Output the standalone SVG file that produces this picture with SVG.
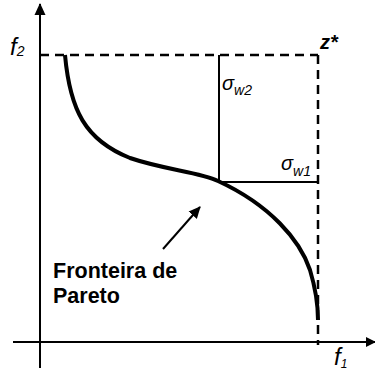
<svg xmlns="http://www.w3.org/2000/svg" width="375" height="373" viewBox="0 0 375 373">
<defs>
<marker id="ah" markerWidth="10" markerHeight="10" refX="9" refY="5" orient="auto" markerUnits="userSpaceOnUse"><path d="M0,0 L10,5 L0,10 Z" fill="#000"/></marker>
<marker id="ah2" markerWidth="12" markerHeight="12" refX="11" refY="6" orient="auto" markerUnits="userSpaceOnUse"><path d="M0,0.5 L12,6 L0,11.5 Z" fill="#000"/></marker>
</defs>
<style>
.ax{stroke:#000;stroke-width:2;fill:none}
.dash{stroke:#000;stroke-width:2.5;stroke-dasharray:9,6;fill:none}
.sol{stroke:#000;stroke-width:2;fill:none}
.curve{stroke:#000;stroke-width:4;fill:none;stroke-linecap:butt}
.t{font-family:"Liberation Sans",Arial,sans-serif;fill:#000}
</style>
<g id="connectors">
<line class="ax" x1="40" y1="368" x2="40" y2="4" marker-end="url(#ah2)"/>
<line class="ax" x1="13" y1="342" x2="375" y2="342" marker-end="url(#ah)"/>
<line class="dash" x1="40" y1="55" x2="318" y2="55"/>
<line class="dash" x1="318" y1="55" x2="318" y2="345"/>
<line class="sol" x1="219" y1="55" x2="219" y2="182"/>
<line class="sol" x1="219" y1="182" x2="318" y2="182"/>
<path class="curve" d="M65,55 C70,110 85,140 130,158 C165,170 200,172 218,181 C270,205 300,240 310,270 C316,290 318,305 318,320"/>
<line class="sol" x1="163" y1="249" x2="200" y2="207" stroke-width="1.5" marker-end="url(#ah2)"/>
</g>
<g id="labels">
<text class="t" x="10" y="55" font-size="24" font-style="italic">f<tspan font-size="14" dy="1">2</tspan></text>
<text class="t" x="320" y="49" font-size="20" font-weight="bold" font-style="italic">z*</text>
<text class="t" x="222" y="90" font-size="20" font-style="italic">σ<tspan font-size="14" dy="5">w2</tspan></text>
<text class="t" x="281" y="170" font-size="20" font-style="italic">σ<tspan font-size="14" dy="6">w1</tspan></text>
<text class="t" x="53" y="278" font-size="21.5" font-weight="bold">Fronteira de</text>
<text class="t" x="53" y="303" font-size="21.5" font-weight="bold">Pareto</text>
<text class="t" x="334" y="365" font-size="24" font-style="italic">f<tspan font-size="12" dy="3">1</tspan></text>
</g>
</svg>
